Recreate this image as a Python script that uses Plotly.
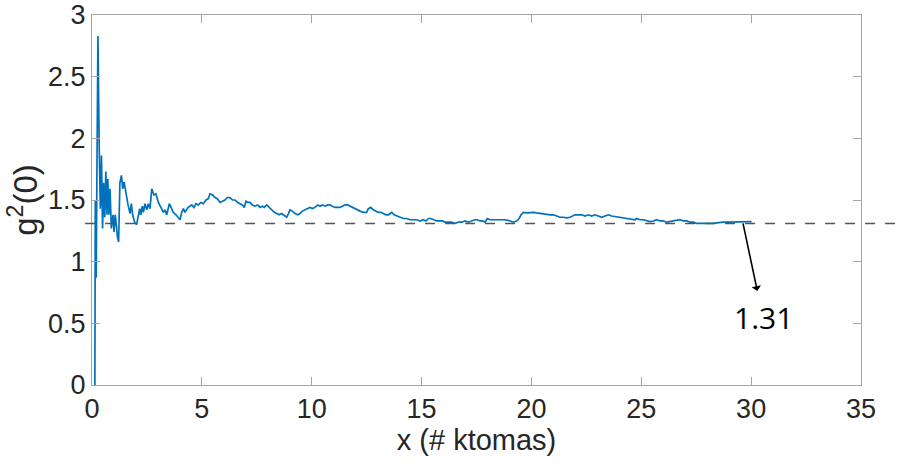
import plotly.graph_objects as go

# Running estimate of g2(0) versus number of detected events (thousands)
x_k = [
    0.13, 0.15, 0.17, 0.19, 0.22, 0.27, 0.33, 0.38, 0.43, 0.48, 0.53, 0.58, 0.63, 0.68,
    0.72, 0.77, 0.82, 0.88, 0.96, 1.00, 1.06, 1.12, 1.16, 1.21, 1.27, 1.34, 1.40, 1.46,
    1.55, 1.64, 1.73, 1.79, 1.85, 1.94, 2.03, 2.09, 2.17, 2.22, 2.29, 2.34, 2.41, 2.49,
    2.56, 2.64, 2.72, 2.82, 2.91, 3.02, 3.13, 3.25, 3.32, 3.40, 3.52, 3.63, 3.70, 3.82,
    3.93, 4.01, 4.08, 4.16, 4.23, 4.38, 4.54, 4.64, 4.73, 4.84, 4.95, 5.07, 5.19, 5.29,
    5.37, 5.49, 5.60, 5.70, 5.83, 5.95, 6.05, 6.16, 6.28, 6.40, 6.51, 6.63, 6.74, 6.84,
    6.93, 7.01, 7.09, 7.19, 7.30, 7.42, 7.54, 7.65, 7.75, 7.84, 7.95, 8.06, 8.18, 8.30,
    8.41, 8.51, 8.63, 8.75, 8.86, 8.94, 9.01, 9.12, 9.24, 9.36, 9.47, 9.57, 9.69, 9.82,
    9.92, 10.03, 10.15, 10.27, 10.38, 10.48, 10.61, 10.73, 10.83, 10.94, 11.06, 11.18,
    11.29, 11.39, 11.52, 11.64, 11.74, 11.85, 11.97, 12.09, 12.20, 12.35, 12.50, 12.58,
    12.69, 12.80, 12.93, 13.03, 13.14, 13.26, 13.38, 13.49, 13.64, 13.75, 13.87, 14.02,
    14.17, 14.32, 14.47, 14.62, 14.78, 14.93, 15.08, 15.20, 15.31, 15.42, 15.53, 15.69,
    15.84, 15.96, 16.07, 16.22, 16.37, 16.52, 16.67, 16.83, 16.98, 17.13, 17.28, 17.43,
    17.54, 17.66, 17.78, 17.89, 17.99, 18.12, 18.27, 18.42, 18.57, 18.80, 19.03, 19.18,
    19.33, 19.44, 19.53, 19.63, 19.79, 19.94, 20.09, 20.24, 20.39, 20.54, 20.70, 20.85,
    21.00, 21.15, 21.30, 21.45, 21.61, 21.76, 21.91, 21.98, 22.13, 22.29, 22.44, 22.59,
    22.74, 22.89, 23.04, 23.20, 23.35, 23.50, 23.65, 23.80, 23.96, 24.11, 24.26, 24.41,
    24.56, 24.72, 24.79, 24.94, 25.09, 25.25, 25.40, 25.55, 25.70, 25.85, 26.00, 26.16,
    26.31, 26.46, 26.61, 26.76, 26.91, 27.07, 27.22, 27.37, 27.52, 27.67, 27.82, 27.98,
    28.13, 28.28, 28.43, 28.58, 28.73, 28.89, 29.04, 29.19, 29.34, 29.49, 29.64, 29.79,
    29.95, 30.02,
]
g2 = [
    0.00, 1.50, 1.05, 0.87, 1.72, 2.83, 1.91, 1.43, 1.86, 1.27, 1.64, 1.36, 1.73, 1.38,
    1.67, 1.38, 1.59, 1.27, 1.38, 1.24, 1.38, 1.24, 1.20, 1.16, 1.64, 1.70, 1.59, 1.645,
    1.54, 1.46, 1.39, 1.47, 1.38, 1.32, 1.30, 1.35, 1.43, 1.38, 1.45, 1.40, 1.47, 1.42,
    1.47, 1.43, 1.59, 1.54, 1.55, 1.48, 1.44, 1.40, 1.42, 1.38, 1.47, 1.43, 1.40, 1.38,
    1.36, 1.34, 1.40, 1.43, 1.40, 1.44, 1.46, 1.44, 1.47, 1.46, 1.48, 1.47, 1.50, 1.51,
    1.55, 1.54, 1.52, 1.51, 1.48, 1.49, 1.50, 1.52, 1.52, 1.50, 1.50, 1.48, 1.47, 1.46,
    1.44, 1.49, 1.48, 1.48, 1.46, 1.45, 1.46, 1.44, 1.45, 1.44, 1.46, 1.44, 1.42, 1.40,
    1.39, 1.38, 1.39, 1.37, 1.36, 1.39, 1.42, 1.41, 1.39, 1.38, 1.39, 1.41, 1.42, 1.43,
    1.44, 1.43, 1.44, 1.46, 1.45, 1.46, 1.45, 1.46, 1.46, 1.45, 1.44, 1.44,
    1.44, 1.45, 1.46, 1.46, 1.45, 1.44, 1.43, 1.42, 1.41, 1.40, 1.40, 1.43,
    1.44, 1.42, 1.41, 1.40, 1.40, 1.39, 1.38, 1.38, 1.40, 1.38, 1.37, 1.36,
    1.35, 1.35, 1.34, 1.34, 1.34, 1.33, 1.34, 1.33, 1.35, 1.35, 1.34, 1.33,
    1.33, 1.33, 1.32, 1.32, 1.32, 1.31, 1.32, 1.32, 1.33, 1.32, 1.33, 1.34,
    1.34, 1.33, 1.33, 1.32, 1.35, 1.34, 1.34, 1.34, 1.34, 1.34, 1.33, 1.32,
    1.33, 1.35, 1.38, 1.40, 1.395, 1.40, 1.40, 1.395, 1.39, 1.385, 1.38, 1.38,
    1.38, 1.37, 1.36, 1.36, 1.355, 1.36, 1.37, 1.38, 1.38, 1.38, 1.37, 1.38,
    1.37, 1.38, 1.37, 1.36, 1.37, 1.38, 1.37, 1.365, 1.36, 1.355, 1.35, 1.345,
    1.34, 1.34, 1.35, 1.34, 1.34, 1.33, 1.325, 1.33, 1.34, 1.33, 1.33, 1.32,
    1.325, 1.33, 1.34, 1.34, 1.33, 1.33, 1.32, 1.32, 1.31, 1.31, 1.31, 1.305,
    1.31, 1.31, 1.315, 1.32, 1.32, 1.32, 1.32, 1.32, 1.325, 1.32, 1.325, 1.32,
    1.325, 1.325,
]

# Converged value, the point the arrow leaves from and where its label sits
g2_final = 1.31
arrow_from = (29.63, g2_final)
label_pos = (30.54, 0.545)

x_ticks = [0, 5, 10, 15, 20, 25, 30, 35]
y_ticks = [0, 0.5, 1, 1.5, 2, 2.5, 3]

sans = "Liberation Sans, Arial, sans-serif"
tick_font = dict(family=sans, size=27, color="#262626")
frame_color = "#a6a6a6"

fig = go.Figure()
fig.add_trace(go.Scatter(
    x=x_k, y=g2, mode="lines",
    line=dict(color="#0072BD", width=1.7),
    showlegend=False,
))

# Dashed reference line at the converged value, running past the frame
fig.add_shape(
    type="line", xref="paper", yref="y",
    x0=-0.009, x1=1.05, y0=g2_final, y1=g2_final,
    line=dict(color="#555555", width=1.4, dash="10px,10px"),
    layer="above",
)

# Value label with an arrow running from the curve's end down to it
fig.add_annotation(
    x=arrow_from[0], y=arrow_from[1], ax=label_pos[0], ay=label_pos[1],
    xref="x", yref="y", axref="x", ayref="y",
    text=f"{g2_final:.2f}", showarrow=True, arrowside="start",
    arrowhead=2, arrowsize=1.1, arrowwidth=1.6, arrowcolor="black",
    standoff=0, startstandoff=5,
    font=dict(family="Open Sans, sans-serif", size=30, color="black"),
)

fig.update_layout(
    width=898, height=463,
    margin=dict(l=92, r=37, t=15, b=78),
    paper_bgcolor="white", plot_bgcolor="white",
    xaxis=dict(
        range=[0, 35], tickvals=x_ticks, ticks="inside", ticklen=8,
        tickcolor=frame_color, showline=True, linecolor=frame_color, linewidth=1,
        mirror="ticks", showgrid=False, zeroline=False, tickfont=tick_font,
        ticklabeloverflow="allow", automargin=False,
        title=dict(text="x (# ktomas)", font=dict(family=sans, size=29, color="#262626"), standoff=2),
    ),
    yaxis=dict(
        range=[0, 3], tickvals=y_ticks, ticks="inside", ticklen=8,
        tickcolor=frame_color, showline=True, linecolor=frame_color, linewidth=1,
        mirror="ticks", showgrid=False, zeroline=False, tickfont=tick_font,
        ticklabeloverflow="allow", automargin=False,
        title=dict(text="g<sup>2</sup>(0)", font=dict(family=sans, size=33, color="#262626"), standoff=0),
    ),
)

fig.write_html("out.html")
